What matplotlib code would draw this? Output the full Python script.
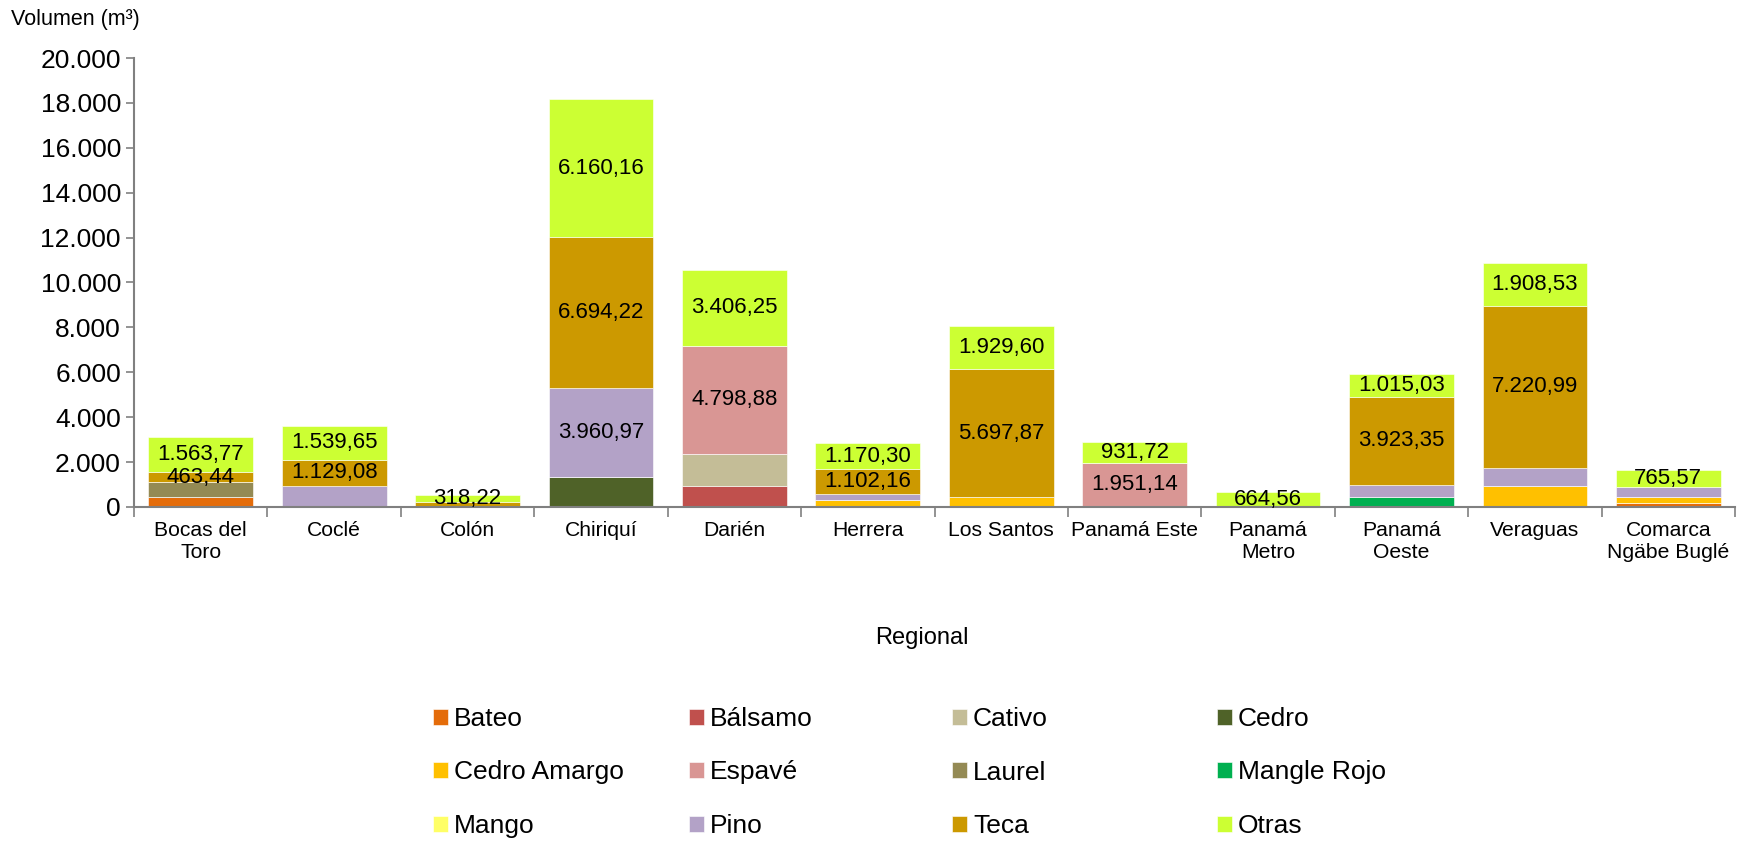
import matplotlib.pyplot as plt
import numpy as np
from matplotlib.ticker import FuncFormatter

plt.rcParams['font.family'] = ['Liberation Sans', 'DejaVu Sans']

regions = ["Bocas del\nToro", "Coclé", "Colón", "Chiriquí", "Darién", "Herrera",
           "Los Santos", "Panamá Este", "Panamá\nMetro", "Panamá\nOeste",
           "Veraguas", "Comarca\nNgäbe Buglé"]

species = ["Bateo", "Bálsamo", "Cativo", "Cedro", "Cedro Amargo", "Espavé",
           "Laurel", "Mangle Rojo", "Mango", "Pino", "Teca", "Otras"]

colors = ["#E46C0A", "#C0504D", "#C4BD97", "#4F6228", "#FFC000", "#D99694",
          "#948A54", "#00B050", "#FFFF66", "#B3A2C7", "#CC9900", "#CCFF33"]

# volumes per species, one value per region (m3)
bateo        = [450, 0, 0, 0, 0, 0, 0, 0, 0, 0, 0, 180]
balsamo      = [0, 0, 0, 0, 950, 0, 0, 0, 0, 0, 0, 0]
cativo       = [0, 0, 0, 0, 1420, 0, 0, 0, 0, 0, 0, 0]
cedro        = [0, 0, 0, 1350, 0, 0, 0, 0, 0, 0, 0, 0]
cedro_amargo = [0, 0, 0, 0, 0, 300, 430, 0, 0, 0, 950, 280]
espave       = [0, 0, 0, 0, 4798.88, 0, 0, 1951.14, 0, 0, 0, 0]
laurel       = [650, 0, 0, 0, 0, 0, 0, 0, 0, 0, 0, 0]
mangle_rojo  = [0, 0, 0, 0, 0, 0, 0, 0, 0, 460, 0, 0]
mango        = [0, 0, 0, 0, 0, 0, 0, 0, 0, 0, 0, 0]
pino         = [0, 950, 0, 3960.97, 0, 270, 0, 0, 0, 535, 790, 420]
teca         = [463.44, 1129.08, 200, 6694.22, 0, 1102.16, 5697.87, 0, 0, 3923.35, 7220.99, 0]
otras        = [1563.77, 1539.65, 318.22, 6160.16, 3406.25, 1170.30, 1929.60, 931.72,
                664.56, 1015.03, 1908.53, 765.57]

series = [bateo, balsamo, cativo, cedro, cedro_amargo, espave, laurel,
          mangle_rojo, mango, pino, teca, otras]


def es_num(v, dec=2):
    s = f"{v:,.{dec}f}"
    return s.replace(",", "X").replace(".", ",").replace("X", ".")


fig = plt.figure(figsize=(17.48, 8.42), dpi=100)
ax = fig.add_axes([0.0767, 0.398, 0.9159, 0.533])

x = np.arange(len(regions))
bottom = np.zeros(len(regions))
for name, vals, col in zip(species, series, colors):
    vals = np.array(vals, dtype=float)
    ax.bar(x, vals, 0.785, bottom=bottom, color=col, label=name,
           edgecolor="white", linewidth=0.4)
    for i, v in enumerate(vals):
        show = (name in ("Otras", "Espavé") or (name == "Teca" and v > 400)
                or (name == "Pino" and v > 1000))
        if show and v > 0:
            ax.text(x[i], bottom[i] + v / 2, es_num(v), ha="center", va="center",
                    fontsize=16, color="black")
    bottom += vals

ax.set_xlim(-0.5, len(regions) - 0.5)
ax.set_ylim(0, 20000)
ax.set_yticks(np.arange(0, 20001, 2000))
ax.yaxis.set_major_formatter(FuncFormatter(lambda v, p: es_num(v, 0)))
ax.tick_params(axis="y", labelsize=19, color="#808080", length=6, width=1.2)

ax.set_xticks(x)
ax.set_xticklabels(regions, fontsize=15.2)
ax.tick_params(axis="x", which="major", length=0, pad=10)
ax.set_xticks(np.arange(-0.5, len(regions), 1), minor=True)
ax.tick_params(axis="x", which="minor", length=7, color="#808080", width=1.2)

for s in ("top", "right"):
    ax.spines[s].set_visible(False)
for s in ("left", "bottom"):
    ax.spines[s].set_color("#808080")
    ax.spines[s].set_linewidth(1.5)

fig.text(11 / 1748, 1 - 20 / 842, "Volumen (m³)", fontsize=15.5, ha="left", va="center")
fig.text(922 / 1748, 1 - 638 / 842, "Regional", fontsize=17, ha="center", va="center")

# legend: 4 equal-width columns, 3 rows, filled row-wise
h, l = ax.get_legend_handles_labels()
col_x = [433, 689, 952, 1217]
for c in range(4):
    idx = [c, c + 4, c + 8]
    lg = fig.legend([h[i] for i in idx], [l[i] for i in idx], loc="center left",
                    bbox_to_anchor=(col_x[c] / 1748, 1 - 772.5 / 842),
                    frameon=False, fontsize=19, handlelength=0.55, handleheight=0.55,
                    handletextpad=0.25, labelspacing=1.12, borderpad=0, borderaxespad=0)

fig.savefig("out.png", dpi=100)
